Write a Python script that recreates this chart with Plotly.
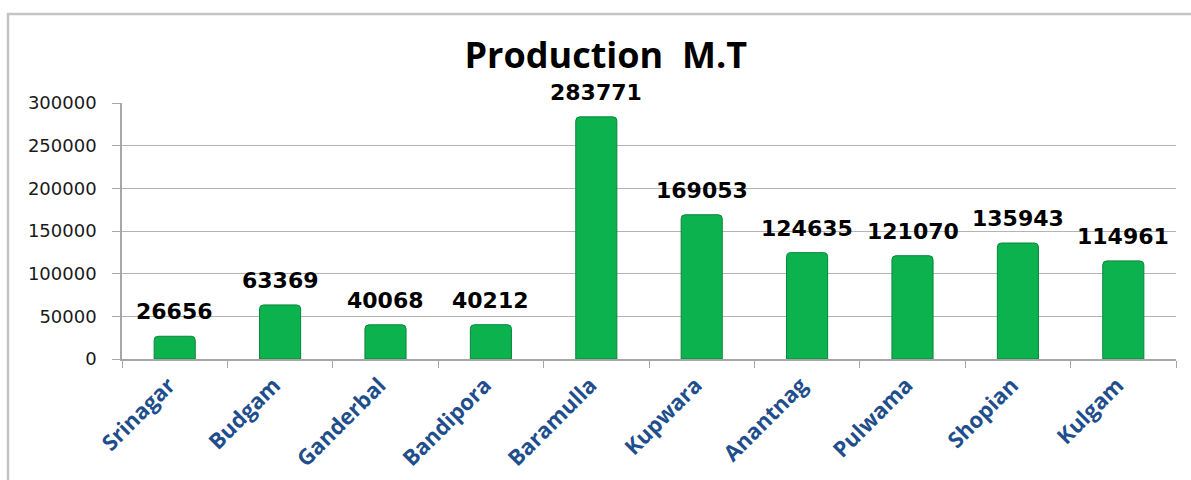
import plotly.graph_objects as go

districts = ["Srinagar", "Budgam", "Ganderbal", "Bandipora", "Baramulla",
             "Kupwara", "Anantnag", "Pulwama", "Shopian", "Kulgam"]
production = [26656, 63369, 40068, 40212, 283771, 169053, 124635, 121070, 135943, 114961]
y_ticks = [0, 50000, 100000, 150000, 200000, 250000, 300000]
title_text = "Production  M.T"

fig = go.Figure()
fig.add_trace(go.Bar(
    x=districts, y=production,
    marker=dict(color="#0CB24E", line=dict(color="#08863A", width=1), cornerradius=4),
    width=0.39,
    hoverinfo="x+y",
))

for d, v in zip(districts, production):
    fig.add_annotation(x=d, y=v, text=str(v), showarrow=False, yanchor="bottom",
                       yshift=10, font=dict(family="DejaVu Sans", size=22, color="#000000", weight="bold"))

fig.update_layout(
    width=1191, height=480,
    paper_bgcolor="white", plot_bgcolor="white",
    margin=dict(l=122, r=15, t=103, b=121),
    showlegend=False,
    title=dict(text=title_text, x=0.459, xref="paper", xanchor="center",
               y=1 - 55 / 480, yref="container", yanchor="middle",
               font=dict(family="Open Sans", size=36, color="#000000", weight="bold")),
    xaxis=dict(
        tickangle=-45, tickson="boundaries", ticks="outside", ticklen=7, tickcolor="#A6A6A6",
        showline=True, linecolor="#A6A6A6", linewidth=1.5, showgrid=False, automargin=False,
        ticklabelshift=-6, ticklabelstandoff=3,
        tickfont=dict(family="Open Sans", size=22, color="#1F4E8C", weight="bold"),
    ),
    yaxis=dict(
        range=[0, 300000], tickvals=y_ticks, ticktext=[str(t) for t in y_ticks],
        ticks="outside", ticklen=8, tickcolor="#A6A6A6",
        showline=True, linecolor="#A6A6A6", linewidth=1.5, automargin=False,
        showgrid=True, gridcolor="#B4B4B4", gridwidth=1.2, zeroline=False,
        ticklabelstandoff=12,
        tickfont=dict(family="DejaVu Sans", size=18, color="#1A1A1A"),
    ),
    shapes=[dict(type="rect", xref="paper", yref="paper",
                 x0=(8 - 122) / 1054, x1=1.3, y0=-1, y1=(359 - 14) / 256,
                 line=dict(color="#C4C4C4", width=2.5), fillcolor="rgba(0,0,0,0)", layer="below")],
)

fig.write_html("out.html", config={"displayModeBar": False},
               post_script="document.body.style.margin='0';document.body.style.overflow='hidden';")
